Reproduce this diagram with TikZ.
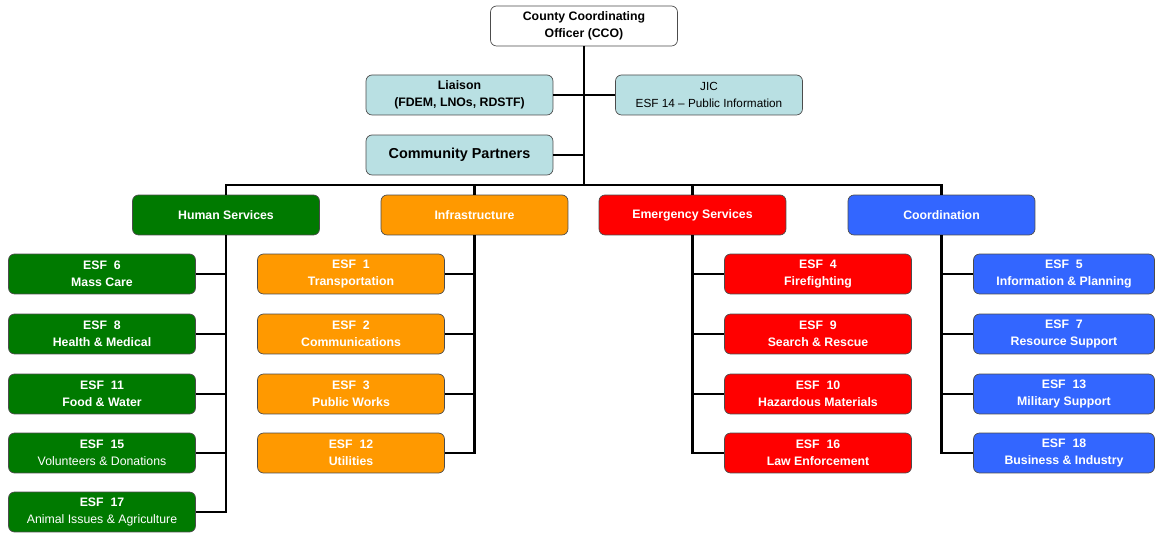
\documentclass[tikz,border=0pt]{standalone}
\usepackage{fontspec}
\setmainfont{Liberation Sans}
\usepackage{xcolor}
\usepackage{tikz}
\usetikzlibrary{positioning}

\definecolor{hsgreen}{RGB}{0,122,0}
\definecolor{infraorange}{RGB}{255,153,0}
\definecolor{esred}{RGB}{255,0,0}
\definecolor{coordblue}{RGB}{51,102,255}
\definecolor{staffcyan}{RGB}{185,224,227}

\tikzset{
  box/.style={draw=black!70, rounded corners=0.12cm, minimum width=3.74cm,
    minimum height=0.8cm, inner sep=0pt, align=center,
    font=\fontsize{7}{9.4}\selectfont\bfseries},
  topbox/.style={box, fill=white},
  staffbox/.style={box, fill=staffcyan},
  hsbox/.style={box, fill=hsgreen, text=white},
  infrabox/.style={box, fill=infraorange, text=white},
  esbox/.style={box, fill=esred, text=white},
  coordbox/.style={box, fill=coordblue, text=white},
  link/.style={line width=1.6pt}
}

\begin{document}
\begin{tikzpicture}[x=0.02cm, y=-0.02cm]
		\useasboundingbox (0,0) rectangle (1156,533);
		% command staff
		\node[topbox] (cco) at (584,26) {County Coordinating\\Officer (CCO)};
		\node[staffbox] (liaison) at (459.5,95) {Liaison\\(FDEM, LNOs, RDSTF)};
		\node[staffbox, font=\fontsize{6.7}{9.4}\selectfont] (jic) at (709,95) {JIC\\ESF 14 -- Public Information};
		\node[staffbox, font=\fontsize{8.2}{10}\selectfont\bfseries] (partners) at (459.5,155) {Community Partners};
		\coordinate (bus) at (584,185);
		\draw[link] (cco.south) -- (bus);
		\draw[link] (liaison.east) -- (liaison.east -| bus);
		\draw[link] (jic.west) -- (jic.west -| bus);
		\draw[link] (partners.east) -- (partners.east -| bus);

		% branches
		\node[hsbox] (hs) at (226,215) {Human Services};
		\node[infrabox] (infra) at (474.5,215) {Infrastructure};
		\node[esbox] (es) at (692.5,215) {Emergency Services};
		\node[coordbox] (coord) at (941.5,215) {Coordination};
		\draw[link] (bus) -| (hs.north);
		\draw[link] (bus) -| (infra.north);
		\draw[link] (bus) -| (es.north);
		\draw[link] (bus) -| (coord.north);

		% functions
		\foreach \n/\y/\t in {6/274/Mass Care, 8/334/Health \& Medical, 11/394/Food \& Water,
			15/453/{\mdseries Volunteers \& Donations}, 17/512/{\mdseries Animal Issues \& Agriculture}}{
			\node[hsbox] (esf\n) at (102,\y) {ESF~~\n\\\t};
			\draw[link] (hs.south) |- (esf\n.east);
		}
		\foreach \n/\y/\t in {1/274/Transportation, 2/334/Communications, 3/394/Public Works, 12/453/Utilities}{
			\node[infrabox] (esf\n) at (351,\y) {ESF~~\n\\\t};
			\draw[link] (infra.south) |- (esf\n.east);
		}
		\foreach \n/\y/\t in {4/274/Firefighting, 9/334/Search \& Rescue, 10/394/Hazardous Materials, 16/453/Law Enforcement}{
			\node[esbox] (esf\n) at (818,\y) {ESF~~\n\\\t};
			\draw[link] (es.south) |- (esf\n.west);
		}
		\foreach \n/\y/\t in {5/274/Information \& Planning, 7/334/Resource Support, 13/394/Military Support, 18/453/Business \& Industry}{
			\node[coordbox, minimum width=3.62cm] (esf\n) at (1064,\y) {ESF~~\n\\\t};
			\draw[link] (coord.south) |- (esf\n.west);
		}
	\end{tikzpicture}
\end{document}
